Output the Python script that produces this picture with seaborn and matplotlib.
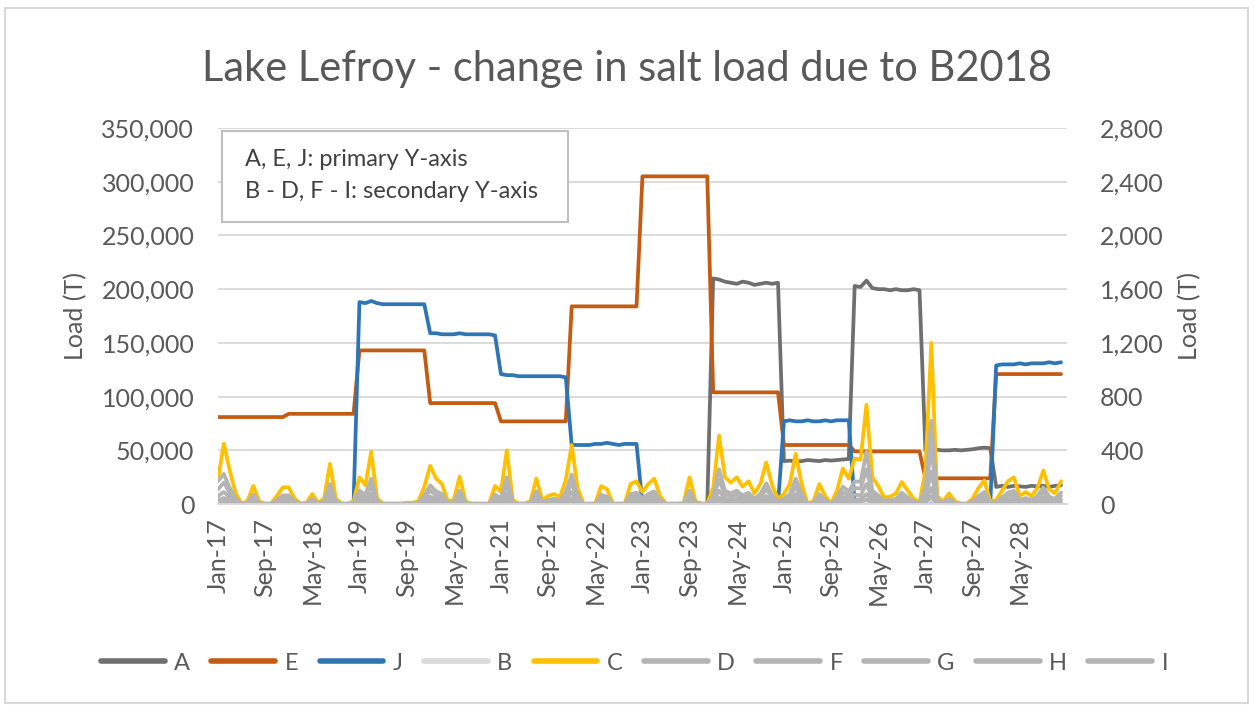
import numpy as np
import pandas as pd
import matplotlib
matplotlib.use("Agg")
import matplotlib.pyplot as plt
from matplotlib.patches import Rectangle
from matplotlib.lines import Line2D
from matplotlib.ticker import FuncFormatter, FixedLocator
import seaborn as sns

TITLE = "Lake Lefroy - change in salt load due to B2018"
NOTE_LINES = ["A, E, J: primary Y-axis", "B - D, F - I: secondary Y-axis"]
Y_LABEL = "Load (T)"

TICK_LABELS = ["Jan-17", "Sep-17", "May-18", "Jan-19", "Sep-19", "May-20",
               "Jan-21", "Sep-21", "May-22", "Jan-23", "Sep-23", "May-24",
               "Jan-25", "Sep-25", "May-26", "Jan-27", "Sep-27", "May-28"]

# Monthly salt loads (T), Jan-17 .. Dec-28, one row per year.
# Primary axis series
A = [
    0, 0, 0, 0, 0, 0, 0, 0, 0, 0, 0, 0,
    0, 0, 0, 0, 0, 0, 0, 0, 0, 0, 0, 0,
    0, 0, 0, 0, 0, 0, 0, 0, 0, 0, 0, 0,
    0, 0, 0, 0, 0, 0, 0, 0, 0, 0, 0, 0,
    0, 0, 0, 0, 0, 0, 0, 0, 0, 0, 0, 0,
    0, 0, 0, 0, 0, 0, 0, 0, 0, 0, 0, 0,
    0, 0, 0, 0, 0, 0, 0, 0, 0, 0, 0, 0,
    210000, 209000, 207000, 206000, 205000, 207000, 206000, 204000, 205000, 206000, 205000, 206000,
    40000, 40500, 39500, 40000, 41000, 40500, 40000, 41000, 40500, 41000, 41500, 42000,
    203000, 202000, 208000, 201000, 200000, 200000, 199000, 200000, 199000, 199000, 200000, 199000,
    50000, 50000, 50500, 50000, 50000, 50500, 50000, 50500, 51000, 52000, 52500, 52000,
    16000, 17000, 16000, 17000, 16500, 16000, 17000, 16500, 17000, 16000, 17000, 17500,
]
E = [
    81000, 81000, 81000, 81000, 81000, 81000, 81000, 81000, 81000, 81000, 81000, 81000,
    84000, 84000, 84000, 84000, 84000, 84000, 84000, 84000, 84000, 84000, 84000, 84000,
    143000, 143000, 143000, 143000, 143000, 143000, 143000, 143000, 143000, 143000, 143000, 143000,
    94000, 94000, 94000, 94000, 94000, 94000, 94000, 94000, 94000, 94000, 94000, 94000,
    77000, 77000, 77000, 77000, 77000, 77000, 77000, 77000, 77000, 77000, 77000, 77000,
    184000, 184000, 184000, 184000, 184000, 184000, 184000, 184000, 184000, 184000, 184000, 184000,
    305000, 305000, 305000, 305000, 305000, 305000, 305000, 305000, 305000, 305000, 305000, 305000,
    104000, 104000, 104000, 104000, 104000, 104000, 104000, 104000, 104000, 104000, 104000, 104000,
    55000, 55000, 55000, 55000, 55000, 55000, 55000, 55000, 55000, 55000, 55000, 55000,
    49000, 49000, 49000, 49000, 49000, 49000, 49000, 49000, 49000, 49000, 49000, 49000,
    24000, 24000, 24000, 24000, 24000, 24000, 24000, 24000, 24000, 24000, 24000, 24000,
    121000, 121000, 121000, 121000, 121000, 121000, 121000, 121000, 121000, 121000, 121000, 121000,
]
J = [
    0, 0, 0, 0, 0, 0, 0, 0, 0, 0, 0, 0,
    0, 0, 0, 0, 0, 0, 0, 0, 0, 0, 0, 0,
    188000, 187000, 189000, 187000, 186000, 186000, 186000, 186000, 186000, 186000, 186000, 186000,
    159000, 159000, 158000, 158000, 158000, 159000, 158000, 158000, 158000, 158000, 158000, 157000,
    121000, 120000, 120000, 119000, 119000, 119000, 119000, 119000, 119000, 119000, 119000, 118000,
    55000, 55000, 55000, 55000, 56000, 56000, 57000, 56000, 55000, 56000, 56000, 56000,
    0, 0, 0, 0, 0, 0, 0, 0, 0, 0, 0, 0,
    0, 0, 0, 0, 0, 0, 0, 0, 0, 0, 0, 0,
    77000, 78000, 77000, 77000, 78000, 77000, 77000, 78000, 77000, 78000, 78000, 78000,
    0, 0, 0, 0, 0, 0, 0, 0, 0, 0, 0, 0,
    0, 0, 0, 0, 0, 0, 0, 0, 0, 0, 0, 0,
    129000, 130000, 130000, 130000, 131000, 130000, 131000, 131000, 131000, 132000, 131000, 132000,
]

# Secondary axis series
B = [
    5, 10, 5, 0, 0, 0, 0, 0, 0, 0, 0, 5,
    5, 0, 0, 0, 0, 0, 0, 10, 0, 0, 0, 0,
    5, 5, 10, 0, 0, 0, 0, 0, 0, 0, 0, 0,
    10, 5, 0, 0, 0, 5, 0, 0, 0, 0, 0, 0,
    0, 10, 0, 0, 0, 0, 5, 0, 0, 0, 0, 5,
    10, 0, 0, 0, 0, 0, 0, 0, 0, 0, 0, 5,
    0, 5, 5, 0, 0, 0, 0, 0, 5, 0, 0, 0,
    0, 15, 5, 0, 5, 0, 0, 0, 0, 10, 0, 0,
    0, 0, 10, 0, 0, 0, 0, 0, 0, 0, 5, 5,
    10, 5, 20, 5, 0, 0, 0, 0, 0, 0, 0, 0,
    5, 30, 0, 0, 0, 0, 0, 0, 0, 0, 5, 0,
    0, 0, 0, 5, 0, 0, 0, 0, 5, 0, 0, 0,
]
C = [
    180, 450, 250, 80, 5, 20, 135, 20, 5, 5, 60, 125,
    125, 40, 5, 10, 75, 10, 40, 300, 40, 5, 5, 20,
    200, 140, 390, 40, 5, 5, 5, 5, 10, 10, 20, 130,
    285, 190, 150, 20, 30, 205, 20, 5, 5, 5, 5, 135,
    90, 400, 30, 5, 5, 20, 190, 30, 60, 75, 50, 180,
    440, 120, 5, 5, 5, 135, 110, 5, 5, 5, 150, 170,
    90, 150, 190, 60, 5, 5, 5, 10, 200, 20, 5, 5,
    120, 510, 200, 160, 200, 130, 170, 80, 150, 310, 140, 40,
    75, 150, 375, 150, 5, 20, 150, 60, 5, 100, 265, 190,
    340, 330, 740, 200, 135, 50, 55, 80, 165, 100, 40, 10,
    250, 1200, 60, 20, 80, 20, 5, 5, 40, 120, 175, 20,
    30, 100, 170, 200, 60, 90, 60, 120, 250, 110, 80, 170,
]
D = [
    170, 225, 120, 40, 0, 10, 70, 10, 0, 0, 30, 65,
    65, 20, 0, 5, 40, 5, 20, 150, 20, 0, 0, 10,
    100, 70, 190, 20, 0, 0, 0, 0, 5, 5, 10, 65,
    140, 95, 75, 10, 15, 100, 10, 0, 0, 0, 0, 70,
    45, 200, 15, 0, 0, 10, 95, 15, 30, 40, 25, 90,
    220, 60, 0, 0, 0, 70, 55, 0, 0, 0, 75, 85,
    45, 75, 95, 30, 0, 0, 0, 5, 100, 10, 0, 0,
    60, 260, 100, 80, 100, 65, 85, 40, 75, 155, 70, 20,
    40, 75, 190, 75, 0, 10, 75, 30, 0, 50, 130, 95,
    170, 165, 390, 100, 65, 25, 30, 40, 85, 50, 20, 5,
    120, 620, 30, 10, 40, 10, 0, 0, 20, 60, 90, 10,
    15, 50, 85, 100, 30, 45, 30, 60, 125, 55, 40, 85,
]
F = [
    110, 160, 85, 25, 0, 5, 45, 5, 0, 0, 20, 45,
    45, 15, 0, 0, 25, 0, 15, 105, 15, 0, 0, 5,
    70, 50, 135, 15, 0, 0, 0, 0, 0, 0, 5, 45,
    100, 65, 50, 5, 10, 70, 5, 0, 0, 0, 0, 45,
    30, 140, 10, 0, 0, 5, 65, 10, 20, 25, 15, 60,
    155, 40, 0, 0, 0, 45, 40, 0, 0, 0, 50, 60,
    30, 50, 65, 20, 0, 0, 0, 0, 70, 5, 0, 0,
    40, 180, 70, 55, 70, 45, 60, 25, 50, 110, 50, 15,
    25, 50, 130, 50, 0, 5, 50, 20, 0, 35, 90, 65,
    120, 115, 260, 70, 45, 15, 20, 25, 55, 35, 15, 0,
    85, 420, 20, 5, 30, 5, 0, 0, 15, 40, 60, 5,
    10, 35, 60, 70, 20, 30, 20, 40, 85, 40, 30, 60,
]
G = [
    60, 90, 50, 15, 0, 0, 25, 0, 0, 0, 10, 25,
    25, 5, 0, 0, 15, 0, 5, 60, 5, 0, 0, 0,
    40, 30, 80, 5, 0, 0, 0, 0, 0, 0, 0, 25,
    55, 40, 30, 0, 5, 40, 0, 0, 0, 0, 0, 25,
    15, 80, 5, 0, 0, 0, 40, 5, 10, 15, 10, 35,
    90, 25, 0, 0, 0, 25, 20, 0, 0, 0, 30, 35,
    15, 30, 40, 10, 0, 0, 0, 0, 40, 0, 0, 0,
    25, 100, 40, 30, 40, 25, 35, 15, 30, 60, 30, 5,
    15, 30, 75, 30, 0, 0, 30, 10, 0, 20, 55, 40,
    70, 65, 150, 40, 25, 10, 10, 15, 35, 20, 5, 0,
    50, 240, 10, 0, 15, 0, 0, 0, 5, 25, 35, 0,
    5, 20, 35, 40, 10, 20, 10, 25, 50, 20, 15, 35,
]
H = [
    30, 45, 25, 5, 0, 0, 15, 0, 0, 0, 5, 10,
    10, 0, 0, 0, 5, 0, 0, 30, 0, 0, 0, 0,
    20, 15, 40, 0, 0, 0, 0, 0, 0, 0, 0, 10,
    30, 20, 15, 0, 0, 20, 0, 0, 0, 0, 0, 15,
    5, 40, 0, 0, 0, 0, 20, 0, 5, 5, 5, 20,
    45, 10, 0, 0, 0, 15, 10, 0, 0, 0, 15, 15,
    10, 15, 20, 5, 0, 0, 0, 0, 20, 0, 0, 0,
    10, 50, 20, 15, 20, 15, 15, 5, 15, 30, 15, 0,
    5, 15, 40, 15, 0, 0, 15, 5, 0, 10, 25, 20,
    35, 35, 75, 20, 15, 5, 5, 10, 15, 10, 0, 0,
    25, 120, 5, 0, 10, 0, 0, 0, 0, 10, 20, 0,
    0, 10, 15, 20, 5, 10, 5, 10, 25, 10, 5, 15,
]
I = [
    10, 20, 10, 0, 0, 0, 5, 0, 0, 0, 0, 5,
    5, 0, 0, 0, 0, 0, 0, 15, 0, 0, 0, 0,
    10, 5, 20, 0, 0, 0, 0, 0, 0, 0, 0, 5,
    15, 10, 5, 0, 0, 10, 0, 0, 0, 0, 0, 5,
    0, 20, 0, 0, 0, 0, 10, 0, 0, 0, 0, 10,
    20, 5, 0, 0, 0, 5, 5, 0, 0, 0, 5, 5,
    5, 5, 10, 0, 0, 0, 0, 0, 10, 0, 0, 0,
    5, 25, 10, 5, 10, 5, 5, 0, 5, 15, 5, 0,
    0, 5, 20, 5, 0, 0, 5, 0, 0, 5, 10, 10,
    15, 15, 35, 10, 5, 0, 0, 5, 5, 5, 0, 0,
    10, 60, 0, 0, 5, 0, 0, 0, 0, 5, 10, 0,
    0, 5, 5, 10, 0, 5, 0, 5, 10, 5, 0, 5,
]

PRIMARY = {"A": A, "E": E, "J": J}
SECONDARY = {"B": B, "C": C, "D": D, "F": F, "G": G, "H": H, "I": I}
LEGEND_ORDER = ["A", "E", "J", "B", "C", "D", "F", "G", "H", "I"]
COLORS = {
    "A": "#6F6F6F", "E": "#C55A11", "J": "#2E75B6",
    "B": "#D9D9D9", "C": "#FFC000",
    "D": "#B4B4B4", "F": "#B4B4B4", "G": "#B4B4B4", "H": "#B4B4B4", "I": "#B4B4B4",
}

TEXT = "#595959"
GRID = "#D9D9D9"
LW = 2.7
FS = 18

sns.set_theme(style="white")
plt.rcParams["font.family"] = ["Lato", "DejaVu Sans"]


def long_frame(series):
    n = len(next(iter(series.values())))
    return pd.DataFrame({
        "month": np.tile(np.arange(n), len(series)),
        "load": np.concatenate([np.asarray(v, dtype=float) for v in series.values()]),
        "series": np.repeat(list(series.keys()), n),
    })


fig = plt.figure(figsize=(12.54, 7.11), dpi=100)
ax = fig.add_axes([0.1738, 0.291, 0.677, 0.529])
ax2 = ax.twinx()

prim = long_frame(PRIMARY)
sec = long_frame(SECONDARY)

sns.lineplot(data=prim, x="month", y="load", hue="series",
             hue_order=list(PRIMARY), palette=[COLORS[k] for k in PRIMARY],
             estimator=None, linewidth=LW, legend=False, ax=ax)
sns.lineplot(data=sec, x="month", y="load", hue="series",
             hue_order=list(SECONDARY), palette=[COLORS[k] for k in SECONDARY],
             estimator=None, linewidth=LW, legend=False, ax=ax2)

n_months = len(A)
ax.set_xlim(0, n_months)
ax.set_ylim(0, 350000)
ax2.set_ylim(0, 2800)
ax.set_yticks(np.arange(0, 350001, 50000))
ax2.set_yticks(np.arange(0, 2801, 400))
ax.yaxis.set_major_formatter(FuncFormatter(lambda v, p: f"{int(v):,}"))
ax2.yaxis.set_major_formatter(FuncFormatter(lambda v, p: f"{int(v):,}"))

tick_pos = np.arange(0, 8 * len(TICK_LABELS), 8)
ax.set_xticks(tick_pos)
ax.set_xticklabels(TICK_LABELS, rotation=90)
ax.xaxis.set_minor_locator(FixedLocator([n_months]))

ax.grid(axis="y", color=GRID, linewidth=1.3)
ax.set_axisbelow(True)
for a in (ax, ax2):
    for side in ("top", "left", "right"):
        a.spines[side].set_visible(False)
    a.spines["bottom"].set_color(GRID)
    a.spines["bottom"].set_linewidth(1.3)
    a.set_xlabel("")

ax.tick_params(axis="x", which="both", direction="out", length=6, width=1.2,
               color=GRID, labelsize=FS, labelcolor=TEXT, pad=4)
ax.tick_params(axis="y", length=0, labelsize=FS, labelcolor=TEXT, pad=17)
ax2.tick_params(axis="y", length=0, labelsize=FS, labelcolor=TEXT, pad=24)
ax2.tick_params(axis="x", length=0)

ax.set_ylabel(Y_LABEL, fontsize=FS, color=TEXT, labelpad=10)
ax2.set_ylabel(Y_LABEL, fontsize=FS, color=TEXT, labelpad=10)

fig.text(0.5, 0.903, TITLE, ha="center", va="center", fontsize=30, color=TEXT)

# note box in the upper-left of the plot area
fig.patches.append(Rectangle((222 / 1254, 1 - 222 / 711), 346 / 1254, 91 / 711,
                             transform=fig.transFigure, facecolor="white",
                             edgecolor="#BFBFBF", linewidth=1.5, zorder=2))
fig.text(245 / 1254, 1 - 160 / 711, NOTE_LINES[0], ha="left", va="center",
         fontsize=17, color="#404040", zorder=3)
fig.text(245 / 1254, 1 - 191 / 711, NOTE_LINES[1], ha="left", va="center",
         fontsize=17, color="#404040", zorder=3)

handles = [Line2D([0], [0], color=COLORS[k], linewidth=4) for k in LEGEND_ORDER]
leg = fig.legend(handles, LEGEND_ORDER, loc="center", bbox_to_anchor=(0.506, 1 - 663 / 711),
                 ncol=len(LEGEND_ORDER), frameon=False, fontsize=17,
                 handlelength=2.7, handletextpad=0.4, columnspacing=0.9)
for t in leg.get_texts():
    t.set_color(TEXT)

# light outline around the whole chart
fig.patches.append(Rectangle((5 / 1254, 8 / 711), 1243 / 1254, 695 / 711,
                             transform=fig.transFigure, fill=False,
                             edgecolor=GRID, linewidth=1.5, zorder=0))

fig.savefig("out.png", dpi=100, facecolor="white")
